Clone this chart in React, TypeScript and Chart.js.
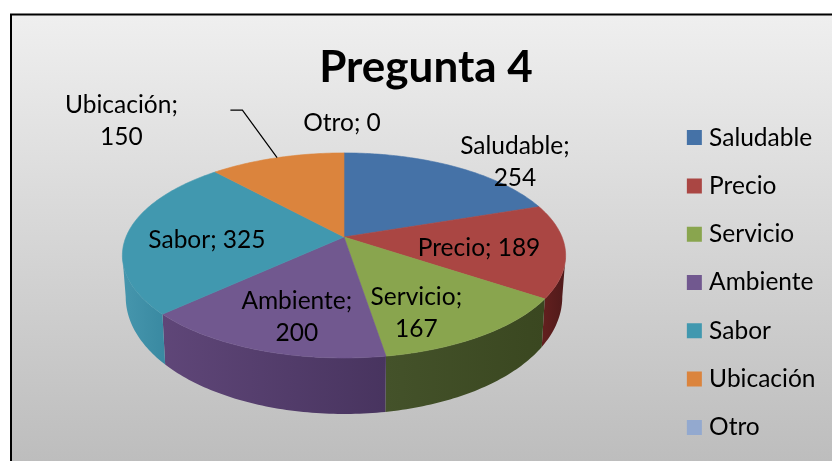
import React, { useEffect, useRef } from "react";
import { Chart, registerables } from "chart.js";

Chart.register(...registerables);

const titleText = "Pregunta 4";
const categories = ["Saludable", "Precio", "Servicio", "Ambiente", "Sabor", "Ubicación", "Otro"];
const values = [254, 189, 167, 200, 325, 150, 0];
const topColors = ["#4572A7", "#AA4643", "#89A54E", "#71588F", "#4198AF", "#DB843D", "#93A9CF"];
const sideColorsLeft = ["#2f4f78", "#611f1e", "#44522a", "#5f4678", "#4696ad", "#9a5a25", "#6680a8"];
const sideColorsRight = ["#2f4f78", "#4f1a1a", "#3a4720", "#48345f", "#3a8aa2", "#9a5a25", "#6680a8"];
const labelLines = [["Saludable;", "254"], ["Precio; 189"], ["Servicio;", "167"], ["Ambiente;", "200"], ["Sabor; 325"], ["Ubicación;", "150"], ["Otro; 0"]];
const labelOffsets = [[101, -30.5], [3.5, 3], [-5, 21], [0, 17], [-7, 5.5], [-180, -65.5], [-2, -60]];

const FONT = "Lato, Carlito, sans-serif";
const LABEL_SIZE = 24.5;
const HUB_X = 344;
const HUB_Y = 237;
const SCALE_X = 218;
const SCALE_Y = 99.2;
const PERSPECTIVE = -0.18;
const DEPTH_BASE = 38;
const DEPTH_FRONT = 18;

function project(angle: number, f = 1) {
  const u = Math.cos(angle) * f;
  const v = Math.sin(angle) * f;
  const d = 1 + PERSPECTIVE * v;
  return { x: HUB_X + (SCALE_X * u) / d, y: HUB_Y + (SCALE_Y * v) / d };
}

function lower(angle: number) {
  const p = project(angle);
  return {
    x: HUB_X + (p.x - HUB_X) * 0.985,
    y: p.y + DEPTH_BASE + DEPTH_FRONT * Math.sin(angle),
  };
}

const backgroundPlugin = {
  id: "panel",
  beforeDraw(chart: any) {
    const { ctx, width, height } = chart;
    ctx.save();
    ctx.fillStyle = "#ffffff";
    ctx.fillRect(0, 0, width, height);
    const g = ctx.createLinearGradient(0, 15, 0, height);
    g.addColorStop(0, "#EFEFEF");
    g.addColorStop(1, "#BDBDBD");
    ctx.fillStyle = g;
    ctx.fillRect(11, 14, width, height);
    ctx.strokeStyle = "#000000";
    ctx.lineWidth = 2;
    ctx.strokeRect(11, 14.5, width + 10, height + 10);
    ctx.restore();
  },
};

const pie3dPlugin = {
  id: "pie3d",
  beforeDatasetsDraw(chart: any) {
    const { ctx } = chart;
    const arcs = chart.getDatasetMeta(0).data;
    const visibleFrom = Math.asin(0.18);
    const visibleTo = Math.PI - visibleFrom;
    ctx.save();
    arcs.forEach((arc: any, i: number) => {
      const s = Math.max(arc.startAngle, visibleFrom);
      const e = Math.min(arc.endAngle, visibleTo);
      if (e <= s) return;
      const n = Math.max(4, Math.ceil((e - s) * 60));
      const top: any[] = [];
      const bottom: any[] = [];
      for (let k = 0; k <= n; k++) {
        const a = s + ((e - s) * k) / n;
        top.push(project(a));
        bottom.push(lower(a));
      }
      const g = ctx.createLinearGradient(Math.min(top[0].x, top[n].x), 0, Math.max(top[0].x, top[n].x), 0);
      g.addColorStop(0, sideColorsLeft[i]);
      g.addColorStop(1, sideColorsRight[i]);
      ctx.beginPath();
      top.forEach((p, k) => (k ? ctx.lineTo(p.x, p.y) : ctx.moveTo(p.x, p.y)));
      bottom.reverse().forEach((p) => ctx.lineTo(p.x, p.y));
      ctx.closePath();
      ctx.fillStyle = g;
      ctx.fill();
    });
    arcs.forEach((arc: any, i: number) => {
      const span = arc.endAngle - arc.startAngle;
      if (span <= 0) return;
      const n = Math.max(4, Math.ceil(span * 60));
      ctx.beginPath();
      ctx.moveTo(HUB_X, HUB_Y);
      for (let k = 0; k <= n; k++) {
        const p = project(arc.startAngle + (span * k) / n);
        ctx.lineTo(p.x, p.y);
      }
      ctx.closePath();
      ctx.fillStyle = topColors[i];
      ctx.strokeStyle = topColors[i];
      ctx.lineWidth = 0.6;
      ctx.fill();
      ctx.stroke();
    });
    ctx.restore();
    return false;
  },
  afterDraw(chart: any) {
    const { ctx } = chart;
    const arcs = chart.getDatasetMeta(0).data;
    ctx.save();
    ctx.font = `${LABEL_SIZE}px ${FONT}`;
    ctx.fillStyle = "#000000";
    ctx.textAlign = "center";
    ctx.textBaseline = "middle";
    arcs.forEach((arc: any, i: number) => {
      const mid = (arc.startAngle + arc.endAngle) / 2;
      const c = project(mid, 0.6);
      const x = c.x + labelOffsets[i][0];
      const y = c.y + labelOffsets[i][1];
      const lines = labelLines[i];
      lines.forEach((t, k) => ctx.fillText(t, x, y + (k - (lines.length - 1) / 2) * 32));
      if (categories[i] === "Ubicación") {
        const end = project(mid, 1);
        ctx.beginPath();
        ctx.moveTo(x + 109, y - 11);
        ctx.lineTo(x + 121, y - 11);
        ctx.lineTo(end.x, end.y);
        ctx.strokeStyle = "#000000";
        ctx.lineWidth = 1.2;
        ctx.stroke();
      }
    });
    ctx.restore();
  },
};

export default function App() {
  const ref = useRef<HTMLCanvasElement>(null);
  useEffect(() => {
    const chart = new Chart(ref.current!, {
      type: "pie",
      data: {
        labels: categories,
        datasets: [{ data: values, backgroundColor: topColors, borderWidth: 0 }],
      },
      options: {
        responsive: false,
        animation: false,
        layout: { padding: { left: 26.5, right: 6.5, top: 0, bottom: -104 } },
        plugins: {
          title: {
            display: true,
            text: titleText,
            color: "#000000",
            font: { family: FONT, size: 44, weight: "bold" },
            padding: { top: 41, bottom: 10.2 },
          },
          tooltip: { enabled: false },
          legend: {
            position: "right",
            labels: {
              boxWidth: 5,
              boxHeight: 5,
              padding: 23.8,
              color: "#000000",
              font: { family: FONT, size: 24.5 },
              generateLabels: () =>
                categories.map((text, i) => ({
                  text,
                  fillStyle: topColors[i],
                  strokeStyle: topColors[i],
                  lineWidth: 10,
                  hidden: false,
                  index: i,
                })),
            },
          },
        },
      },
      plugins: [backgroundPlugin, pie3dPlugin],
    } as any);
    return () => chart.destroy();
  }, []);
  return (
    <canvas
      ref={ref}
      width={832}
      height={461}
      style={{ position: "fixed", left: 0, top: 0, display: "block", filter: "blur(0.4px)" }}
    />
  );
}
